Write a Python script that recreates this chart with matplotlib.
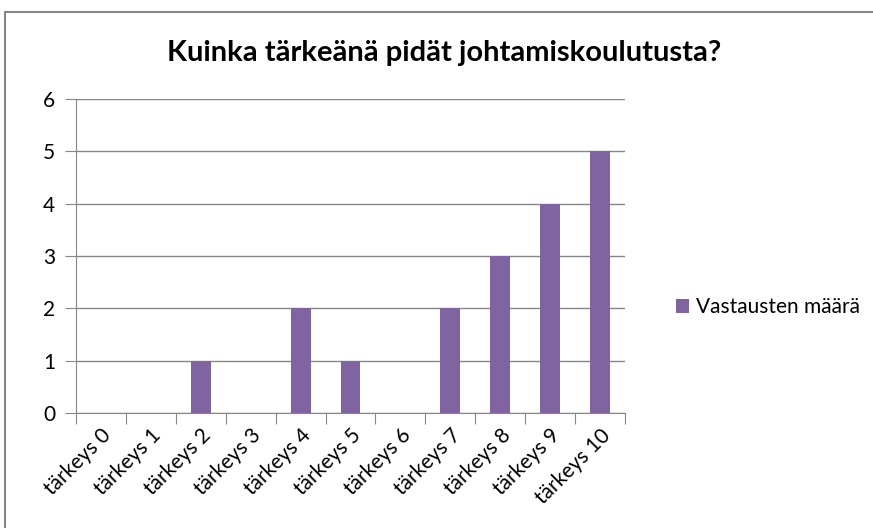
import matplotlib.pyplot as plt
from matplotlib.patches import Rectangle

categories = ["tärkeys 0", "tärkeys 1", "tärkeys 2", "tärkeys 3", "tärkeys 4", "tärkeys 5",
              "tärkeys 6", "tärkeys 7", "tärkeys 8", "tärkeys 9", "tärkeys 10"]
counts = [0, 0, 1, 0, 2, 1, 0, 2, 3, 4, 5]
series_name = "Vastausten määrä"
title = "Kuinka tärkeänä pidät johtamiskoulutusta?"

plt.rcParams['font.family'] = ['Lato', 'DejaVu Sans']

W, H = 873, 528
fig = plt.figure(figsize=(W/100, H/100), dpi=100)
ax = fig.add_axes([76/W, 1-413/H, (625-76)/W, (413-99)/H])

x = list(range(len(categories)))
ax.bar(x, counts, width=0.4, color="#8064A2", label=series_name, zorder=3)

ax.set_xlim(-0.5, len(categories)-0.5)
ax.set_ylim(0, 6)
ax.set_yticks(range(0, 7))
ax.grid(axis='y', color="#868686", linewidth=1, zorder=0)

# ticks at category boundaries, labels at centers
ax.set_xticks([i-0.5 for i in range(len(categories)+1)])
ax.set_xticklabels([])
ax.set_xticks(x, minor=True)
ax.set_xticklabels(categories, minor=True, rotation=45, ha='right', rotation_mode='anchor', fontsize=15)
ax.tick_params(axis='x', which='minor', length=0, pad=9)
ax.tick_params(axis='x', which='major', length=8, color="#868686")
ax.tick_params(axis='y', length=8, color="#868686", labelsize=15, pad=7)

for s in ['top', 'right']:
    ax.spines[s].set_visible(False)
for s in ['left', 'bottom']:
    ax.spines[s].set_color("#868686")

fig.text(444/W, 1-53/H, title, ha='center', va='center', fontsize=21, fontweight='bold')

ax.legend(loc='center left', bbox_to_anchor=(657/W, 1-307/H), bbox_transform=fig.transFigure,
          frameon=False, fontsize=15, handlelength=0.65, handleheight=0.65, handletextpad=0.3)

# chart area border
fig.patches.append(Rectangle((5/W, -0.1), 1.2, 1.1-12/H, transform=fig.transFigure,
                             fill=False, edgecolor="#868686", linewidth=1.5))

fig.savefig("out.png", dpi=100)
